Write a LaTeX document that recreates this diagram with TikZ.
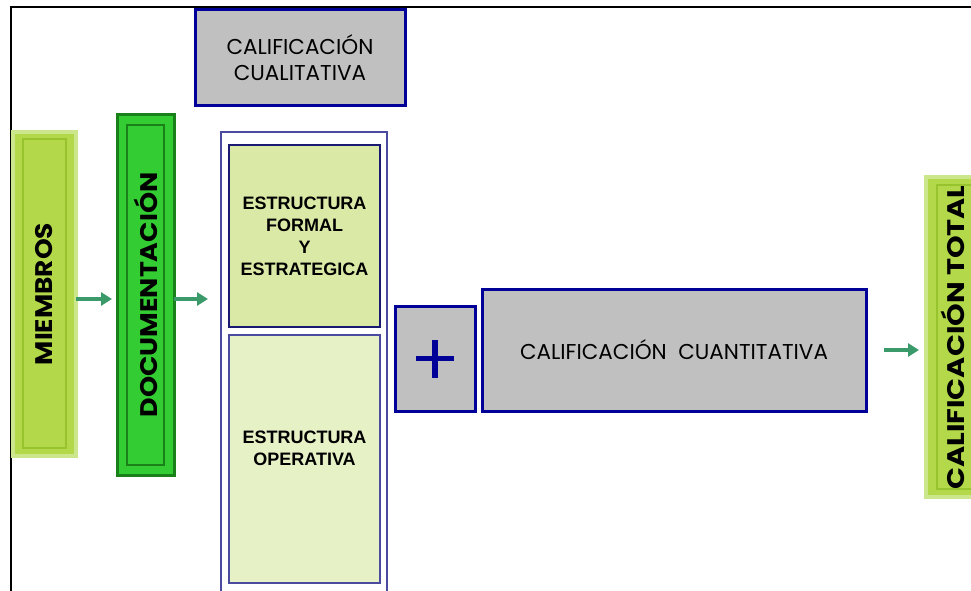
\documentclass[tikz,border=0pt]{standalone}
\usepackage{fontspec}
\setmainfont{Liberation Sans}
\newfontfamily\gothic{Poppins}
\usetikzlibrary{arrows.meta,positioning}
\definecolor{navy}{HTML}{000099}
\definecolor{darknavy}{HTML}{1A1A73}
\definecolor{softnavy}{HTML}{4A4A9E}
\definecolor{boxgray}{HTML}{C0C0C0}
\definecolor{lime}{HTML}{B3D94A}
\definecolor{limeedge}{HTML}{CCE68C}
\definecolor{limeline}{HTML}{96C32E}
\definecolor{brightgreen}{HTML}{33CC33}
\definecolor{darkgreen}{HTML}{1A801A}
\definecolor{paleformal}{HTML}{DAEAA6}
\definecolor{paleoper}{HTML}{E7F1C6}
\definecolor{flowgreen}{HTML}{3A9A6A}
% upright text set sideways, stretched to the width of the wide gothic face
\newcommand{\sidetext}[2]{\rotatebox{90}{\scalebox{#1}[1]{#2}}}

\begin{document}
\begin{tikzpicture}[x=1pt,y=-1pt,
  box/.style={draw,inner sep=0pt,outer sep=0pt,align=center},
  gray box/.style={box,fill=boxgray,draw=navy,line width=3pt,
    font=\gothic\fontsize{21.5}{26}\selectfont},
  lime box/.style={box,fill=lime,draw=limeedge,line width=4pt,
    font=\gothic\bfseries\fontsize{24}{30}\selectfont},
  green box/.style={box,fill=brightgreen,draw=darkgreen,line width=3pt,
    font=\gothic\bfseries\fontsize{24}{30}\selectfont},
  lime inner/.style={draw=limeline,line width=2pt},
  green inner/.style={draw=darkgreen,line width=2pt},
  part box/.style={box,line width=2.5pt,
    font=\bfseries\fontsize{18}{22}\selectfont},
  flow/.style={-{Triangle[length=11pt,width=13pt]},line width=4pt,draw=flowgreen}]

  \useasboundingbox (0,0) rectangle (971,591);
  \draw[line width=2pt] (11,7) rectangle (1010,640);

  % left column
  \node[lime box,minimum width=63pt,minimum height=324pt] (miembros) at (44.5,294)
    {\sidetext{1.1}{MIEMBROS}};
  \draw[lime inner] ([shift={(10pt,8pt)}]miembros.south west)
    rectangle ([shift={(-10pt,-7pt)}]miembros.north east);
  \node[green box,minimum width=57pt,minimum height=360pt] (docu) at (145.5,295)
    {\sidetext{1.12}{DOCUMENTACIÓN}};
  \draw[green inner] ([shift={(10pt,10pt)}]docu.south west)
    rectangle ([shift={(-10pt,-10pt)}]docu.north east);

  % qualitative part
  \node[gray box,minimum width=210pt,minimum height=96pt] (cuali) at (300,58)
    {CALIFICACIÓN\\CUALITATIVA};
  \node[box,draw=softnavy,line width=2pt,fill=white,
    minimum width=166pt,minimum height=488pt] (estruct) at (304,376) {};
  \node[part box,draw=darknavy,fill=paleformal,
    minimum width=151pt,minimum height=182pt] (formal) at (304.5,236)
    {ESTRUCTURA\\FORMAL\\Y\\ESTRATEGICA};
  \node[part box,draw=softnavy,line width=2pt,fill=paleoper,
    minimum width=151pt,minimum height=248pt,
    label={[font=\bfseries\fontsize{18}{22}\selectfont,align=center,
      yshift=11pt]center:ESTRUCTURA\\OPERATIVA}] (operativa) at (304.5,459) {};

  % quantitative part
  \node[gray box,minimum width=80pt,minimum height=105pt] (plus) at (435,358.5) {};
  \draw[navy,line width=5.5pt] ([xshift=-19pt]plus.center) -- ([xshift=19pt]plus.center);
  \draw[navy,line width=5.5pt] ([yshift=-19pt]plus.center) -- ([yshift=19pt]plus.center);
  \node[gray box,minimum width=384pt,minimum height=122pt] (cuanti) at (674,350)
    {CALIFICACIÓN\ \ CUANTITATIVA};

  % result
  \node[lime box,minimum width=62pt,minimum height=320pt] (total) at (957,337)
    {\sidetext{1.2}{CALIFICACIÓN TOTAL}\hspace*{8pt}};
  \draw[lime inner] ([shift={(11pt,8pt)}]total.south west)
    rectangle ([shift={(-11pt,-8pt)}]total.north east);

  % arrows
  \draw[flow,shorten >=5pt] ([yshift=-5pt]miembros.east) -- ([yshift=-4pt]docu.west);
  \draw[flow,shorten >=13pt] ([yshift=-4pt]docu.east) -- ([yshift=-4pt]docu.east -| estruct.west);
  \draw[flow,shorten <=18pt,shorten >=7pt] (cuanti.east) -- (cuanti.east -| total.west);
\end{tikzpicture}
\end{document}
